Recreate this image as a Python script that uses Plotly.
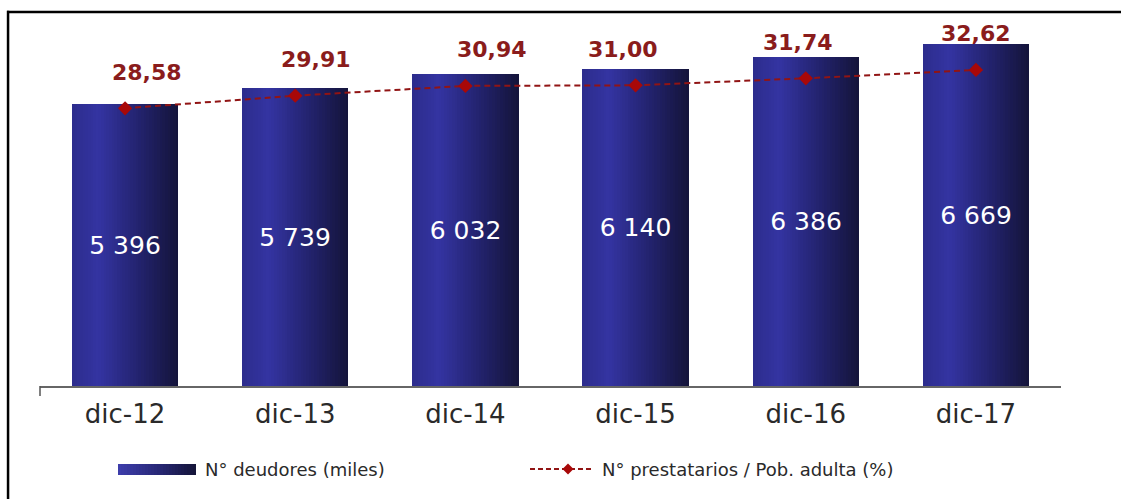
import plotly.graph_objects as go

# --- data -------------------------------------------------------------
periods = ["dic-12", "dic-13", "dic-14", "dic-15", "dic-16", "dic-17"]
deudores_miles = [5396, 5739, 6032, 6140, 6386, 6669]
prestatarios_pct = [28.58, 29.91, 30.94, 31.00, 31.74, 32.62]

# --- layout constants -------------------------------------------------
W, H = 1121, 499
ML, MR, MT, MB = 40, 60, 20, 113
PLOT_W = W - ML - MR
PLOT_H = H - MT - MB
FONT = "DejaVu Sans"

Y1_RANGE = [-604, 7180]      # bar axis (bars rise from the axis floor)
Y2_RANGE = [-0.71, 37.89]    # ratio axis
BAR_WIDTH = 0.625
N_STRIPS = 40
LABEL_XSHIFT = [22, 21, 27, -13, -8, 0]
LABEL_YSHIFT = 36

BAR_STOPS = [(0.0, (44, 44, 140)), (0.25, (52, 52, 162)),
             (0.6, (36, 36, 114)), (1.0, (20, 20, 58))]
LEGEND_STOPS = [(0.0, (62, 62, 172)), (0.5, (40, 40, 120)), (1.0, (20, 20, 56))]
LINE_COLOR = "rgb(145,20,20)"
MARKER_COLOR = "rgb(168,8,8)"
LABEL_COLOR = "rgb(138,28,28)"
TEXT_COLOR = "#2a2a2a"


def lerp_color(stops, t):
    for (t0, c0), (t1, c1) in zip(stops[:-1], stops[1:]):
        if t <= t1:
            f = 0 if t1 == t0 else (t - t0) / (t1 - t0)
            c = [round(a + (b - a) * f) for a, b in zip(c0, c1)]
            return f"rgb({c[0]},{c[1]},{c[2]})"
    c = stops[-1][1]
    return f"rgb({c[0]},{c[1]},{c[2]})"


def px_x(px):
    return (px - ML) / PLOT_W


def px_y(py):
    return (H - MB - py) / PLOT_H


fig = go.Figure()

# gradient bars: stacked vertical strips, each reaching the right edge
floor = Y1_RANGE[0]
lengths = [v - floor for v in deudores_miles]
dw = BAR_WIDTH / N_STRIPS
for k in range(N_STRIPS):
    fig.add_trace(go.Bar(
        x=periods, y=lengths, base=floor,
        width=BAR_WIDTH - k * dw, offset=-BAR_WIDTH / 2 + k * dw,
        marker=dict(color=lerp_color(BAR_STOPS, (k + 0.5) / N_STRIPS), line=dict(width=0)),
        showlegend=False, hoverinfo="skip",
    ))

# value labels inside the bars
fig.add_trace(go.Bar(
    x=periods, y=lengths, base=floor, width=BAR_WIDTH,
    marker=dict(color="rgba(0,0,0,0)", line=dict(width=0)),
    text=[f"{v:,}".replace(",", " ") for v in deudores_miles],
    textposition="inside", insidetextanchor="middle", textangle=0,
    textfont=dict(family=FONT, size=25, color="white"),
    showlegend=False, name="N° deudores (miles)",
))

# ratio line on the secondary axis
fig.add_trace(go.Scatter(
    x=periods, y=prestatarios_pct, yaxis="y2", mode="lines+markers",
    line=dict(color=LINE_COLOR, width=2, dash="6px,4px"),
    marker=dict(symbol="diamond", size=11, color=MARKER_COLOR),
    showlegend=False, name="N° prestatarios / Pob. adulta (%)",
))

annotations = []
for i, (p, r) in enumerate(zip(periods, prestatarios_pct)):
    annotations.append(dict(
        x=p, y=r, xref="x", yref="y2", showarrow=False,
        text=f"{r:.2f}".replace(".", ","),
        xshift=LABEL_XSHIFT[i], yshift=LABEL_YSHIFT, yanchor="middle",
        font=dict(family=FONT, size=22, color=LABEL_COLOR, weight="bold"),
    ))

shapes = []
# outer frame: top and left edges as thin filled strips
for fx0, fx1, fy0, fy1 in [(7, W, 10.8, 13.3), (6.8, 9.3, 10.8, H)]:
    shapes.append(dict(type="rect", xref="paper", yref="paper",
                       x0=px_x(fx0), x1=px_x(fx1), y0=px_y(fy1), y1=px_y(fy0),
                       fillcolor="black", line=dict(width=0)))
# small tick at the left end of the category axis
shapes.append(dict(type="line", xref="paper", yref="paper",
                   x0=px_x(40), x1=px_x(40), y0=px_y(386), y1=px_y(396),
                   line=dict(color="#555555", width=1.5)))

# legend: gradient swatch
lx0, lx1, ly0, ly1 = 118, 196, 464, 475
n_leg = 26
step = (lx1 - lx0) / n_leg
for k in range(n_leg):
    shapes.append(dict(type="rect", xref="paper", yref="paper",
                       x0=px_x(lx0 + k * step), x1=px_x(lx1),
                       y0=px_y(ly1), y1=px_y(ly0),
                       line=dict(width=0),
                       fillcolor=lerp_color(LEGEND_STOPS, (k + 0.5) / n_leg)))
annotations.append(dict(x=px_x(203), y=px_y(469.5), xref="paper", yref="paper",
                        xanchor="left", yanchor="middle", showarrow=False,
                        text="N° deudores (miles)",
                        font=dict(family=FONT, size=18, color=TEXT_COLOR)))

# legend: dashed line with diamond
shapes.append(dict(type="line", xref="paper", yref="paper",
                   x0=px_x(530), x1=px_x(592), y0=px_y(469), y1=px_y(469),
                   line=dict(color=LINE_COLOR, width=2, dash="5px,3px")))
dcx, dcy, dr = 568, 469, 5.5
shapes.append(dict(type="path", xref="paper", yref="paper",
                   path=(f"M {px_x(dcx - dr)} {px_y(dcy)} L {px_x(dcx)} {px_y(dcy - dr)} "
                         f"L {px_x(dcx + dr)} {px_y(dcy)} L {px_x(dcx)} {px_y(dcy + dr)} Z"),
                   fillcolor=MARKER_COLOR, line=dict(width=0)))
annotations.append(dict(x=px_x(600), y=px_y(469.5), xref="paper", yref="paper",
                        xanchor="left", yanchor="middle", showarrow=False,
                        text="N° prestatarios / Pob. adulta (%)",
                        font=dict(family=FONT, size=18, color=TEXT_COLOR)))

fig.update_layout(
    width=W, height=H,
    margin=dict(l=ML, r=MR, t=MT, b=MB, pad=0),
    paper_bgcolor="white", plot_bgcolor="white",
    barmode="overlay", bargap=0,
    xaxis=dict(type="category", showline=True, linecolor="#666666", linewidth=1.5,
               showgrid=False, ticks="", zeroline=False, ticklabelstandoff=4,
               tickfont=dict(family=FONT, size=26, color=TEXT_COLOR)),
    yaxis=dict(range=Y1_RANGE, visible=False, showgrid=False, zeroline=False),
    yaxis2=dict(range=Y2_RANGE, overlaying="y", visible=False, showgrid=False,
                zeroline=False),
    annotations=annotations, shapes=shapes,
    showlegend=False,
)

fig.write_html("out.html")
